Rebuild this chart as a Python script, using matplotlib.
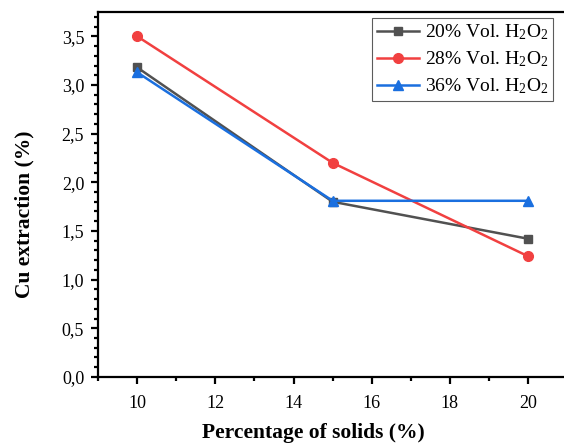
import matplotlib
matplotlib.use("Agg")
import matplotlib.pyplot as plt
from matplotlib.ticker import MultipleLocator, FuncFormatter

solids = [10, 15, 20]
h2o2_20 = [3.18, 1.80, 1.42]
h2o2_28 = [3.50, 2.20, 1.24]
h2o2_36 = [3.13, 1.81, 1.81]
labels = ["20% Vol. H$_2$O$_2$", "28% Vol. H$_2$O$_2$", "36% Vol. H$_2$O$_2$"]

plt.rcParams['font.family'] = ['Liberation Serif', 'DejaVu Serif']
plt.rcParams['mathtext.fontset'] = 'custom'
plt.rcParams['mathtext.rm'] = 'Liberation Serif'
plt.rcParams['mathtext.it'] = 'Liberation Serif:italic'
plt.rcParams['mathtext.bf'] = 'Liberation Serif:bold'

fig = plt.figure(figsize=(5.64, 4.45), dpi=100)
ax = fig.add_axes([0.174, 0.153, 0.8316, 0.820])

ax.plot(solids, h2o2_20, color='#515151', marker='s', ms=6, lw=1.8, label=labels[0])
ax.plot(solids, h2o2_28, color='#F14040', marker='o', ms=7, lw=1.8, label=labels[1])
ax.plot(solids, h2o2_36, color='#1A6FDF', marker='^', ms=7, lw=1.8, label=labels[2])

ax.set_xlim(9, 21)
ax.set_ylim(0, 3.75)
ax.xaxis.set_major_locator(MultipleLocator(2))
ax.xaxis.set_minor_locator(MultipleLocator(1))
ax.yaxis.set_major_locator(MultipleLocator(0.5))
ax.yaxis.set_minor_locator(MultipleLocator(0.1))
ax.yaxis.set_major_formatter(FuncFormatter(lambda v, p: f"{v:.1f}".replace('.', ',')))

for s in ax.spines.values():
    s.set_linewidth(1.6)
ax.tick_params(which='major', direction='out', length=5, width=1.6, labelsize=13, pad=5)
ax.tick_params(which='minor', direction='out', length=3, width=1.6)
ax.tick_params(axis='x', which='major', pad=8)

ax.set_xlabel("Percentage of solids (%)", fontsize=15.5, fontweight='bold', va='center')
ax.set_ylabel("Cu extraction (%)", fontsize=15.5, fontweight='bold', va='center')
ax.xaxis.set_label_coords(0.4595, -0.153)
ax.yaxis.set_label_coords(-0.156, 0.445)

leg = ax.legend(loc='upper right', bbox_to_anchor=(0.975, 0.99), fontsize=14, frameon=True,
                fancybox=False, edgecolor='#333333', handlelength=2.2, borderpad=0.25,
                labelspacing=0.38, handletextpad=0.3, borderaxespad=0.1)
leg.get_frame().set_linewidth(0.8)

fig.savefig("out.png", dpi=100)
